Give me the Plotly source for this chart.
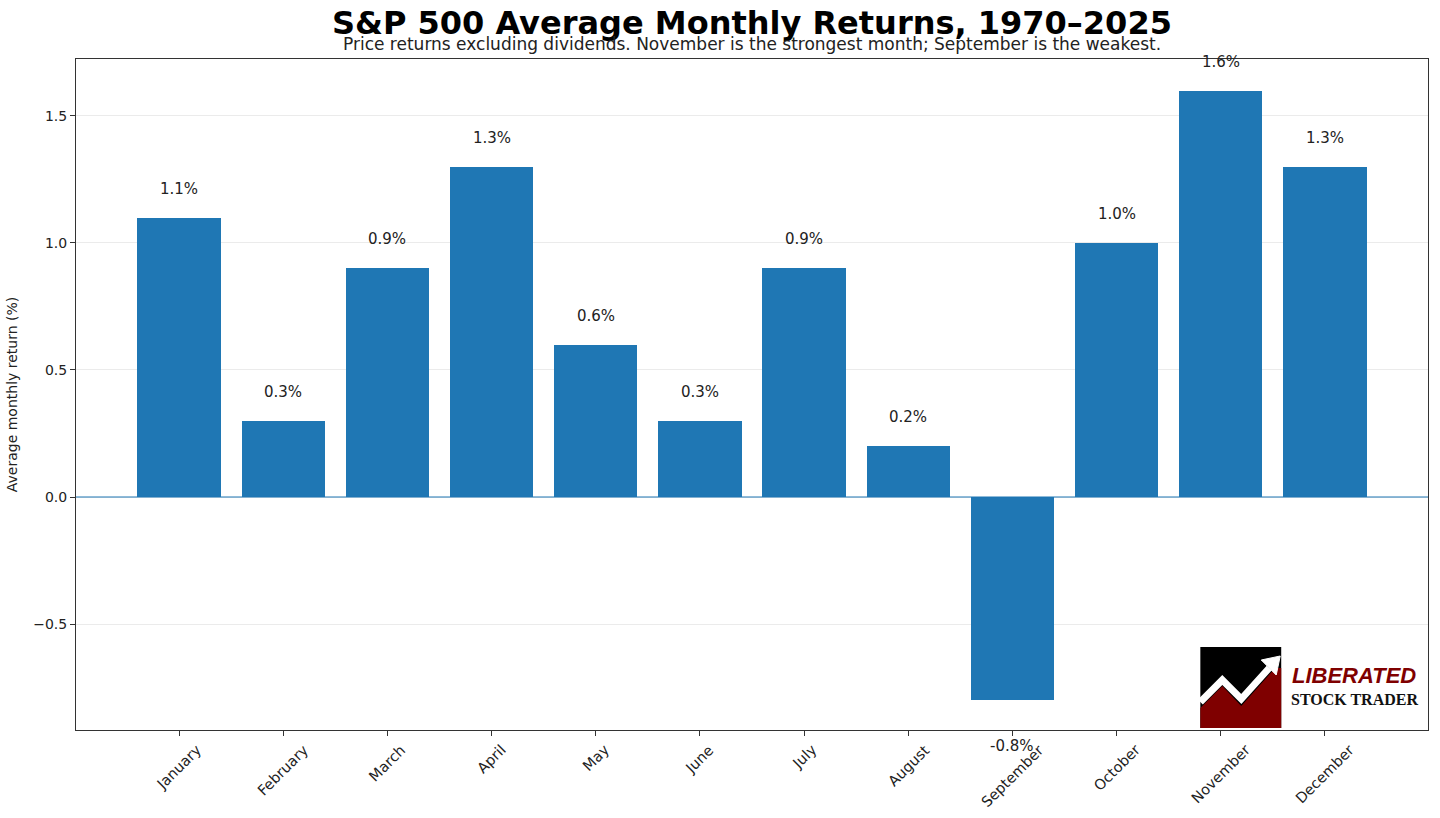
import plotly.graph_objects as go

months = ["January", "February", "March", "April", "May", "June", "July",
          "August", "September", "October", "November", "December"]
returns = [1.1, 0.3, 0.9, 1.3, 0.6, 0.3, 0.9, 0.2, -0.8, 1.0, 1.6, 1.3]
ytick_vals = [-0.5, 0.0, 0.5, 1.0, 1.5]
ytick_text = ["\u22120.5", "0.0", "0.5", "1.0", "1.5"]

W, H = 1440, 818
ML, MR, MT, MB = 75, 11, 59, 88
PW, PH = W - ML - MR, H - MT - MB

def px(x):
    return (x - ML) / PW

def py(y):
    return (H - MB - y) / PH

FONT = "DejaVu Sans"
xpos = list(range(len(months)))

fig = go.Figure()
fig.add_trace(go.Bar(x=xpos, y=returns, width=0.8, marker=dict(color="#1f77b4", line=dict(width=0)),
                     hoverinfo="skip"))

annotations = []
for i, v in zip(xpos, returns):
    annotations.append(dict(x=i, y=v, xref="x", yref="y", text=f"{v:.1f}%", showarrow=False,
                            font=dict(family=FONT, size=15, color="#222"),
                            yanchor="middle", xanchor="center", yshift=29 if v >= 0 else -46))
for i, m in zip(xpos, months):
    annotations.append(dict(x=i, y=0, xref="x", yref="paper", text=m, showarrow=False, textangle=-45,
                            font=dict(family=FONT, size=14.5, color="#222"),
                            yanchor="top", xanchor="center", yshift=-9))
annotations.append(dict(x=0.5, y=1, xref="paper", yref="paper", yanchor="middle", xanchor="center",
                        yshift=59 - 23,
                        text="<b>S&P 500 Average Monthly Returns, 1970\u20132025</b>", showarrow=False,
                        font=dict(family=FONT, size=32, color="black")))
annotations.append(dict(x=0.5, y=1, xref="paper", yref="paper", yanchor="middle", xanchor="center",
                        yshift=59 - 44,
                        text="Price returns excluding dividends. November is the strongest month; September is the weakest.",
                        showarrow=False, font=dict(family=FONT, size=17, color="#222")))
# logo text
annotations.append(dict(x=px(1355), y=py(675), xref="paper", yref="paper", text="<b><i>LIBERATED</i></b>",
                        xanchor="center", yanchor="middle",
                        showarrow=False, font=dict(family="Liberation Sans", size=22, color="#7f0000")))
annotations.append(dict(x=px(1355), y=py(699), xref="paper", yref="paper", text="<b>STOCK TRADER</b>",
                        xanchor="center", yanchor="middle",
                        showarrow=False, font=dict(family="Liberation Serif", size=16, color="#111")))

def path(points):
    s = "M " + " L ".join(f"{px(a)},{py(b)}" for a, b in points)
    return s

shapes = [
    dict(type="line", xref="paper", yref="y", x0=0, x1=1, y0=0, y1=0,
         line=dict(color="#1f77b4", width=1.2), layer="above"),
    dict(type="rect", xref="paper", yref="paper", x0=px(1201), x1=px(1282), y0=py(728), y1=py(647),
         fillcolor="black", line=dict(width=0), layer="above"),
    dict(type="path", xref="paper", yref="paper",
         path=path([(1201, 708), (1223, 686), (1242, 706), (1276, 668), (1282, 668), (1282, 728), (1201, 728)]) + " Z",
         fillcolor="#7f0000", line=dict(width=0), layer="above"),
    dict(type="path", xref="paper", yref="paper",
         path=path([(1201, 702), (1223, 680), (1242, 699), (1270, 668)]),
         line=dict(color="white", width=7), fillcolor="rgba(0,0,0,0)", layer="above"),
    dict(type="path", xref="paper", yref="paper",
         path=path([(1281, 656), (1262, 660), (1277, 675)]) + " Z",
         fillcolor="white", line=dict(color="white", width=1), layer="above"),
]

fig.update_layout(
    width=W, height=H,
    margin=dict(l=ML, r=MR, t=MT, b=MB, pad=0),
    paper_bgcolor="white", plot_bgcolor="white",
    showlegend=False,
    font=dict(family=FONT, size=14, color="#222"),
    annotations=annotations,
    shapes=shapes,
    bargap=0,
    xaxis=dict(range=[-0.99, 11.99], tickvals=xpos, ticktext=[""] * len(xpos), ticks="outside",
               ticklen=5, tickcolor="#333", showline=True, linecolor="#333", linewidth=1, mirror=True,
               showgrid=False, zeroline=False, fixedrange=True),
    yaxis=dict(range=[-0.917, 1.724], tickvals=ytick_vals, ticktext=ytick_text, ticks="outside",
               ticklen=5, tickcolor="#333", showline=True, linecolor="#333", linewidth=1, mirror=True,
               showgrid=True, gridcolor="#ebebeb", gridwidth=1, zeroline=False,
               tickfont=dict(family=FONT, size=14, color="#222"),
               title=dict(text="Average monthly return (%)", font=dict(family=FONT, size=14, color="#222"),
                          standoff=12)),
)

fig.write_html("out.html")
